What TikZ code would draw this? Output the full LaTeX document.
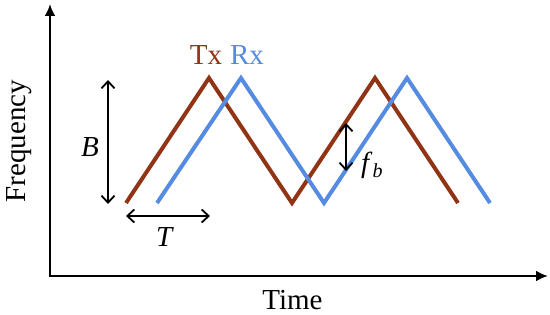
\documentclass[tikz,border=0pt]{standalone}
\usepackage{fontspec}
\setmainfont{Liberation Serif}
\usetikzlibrary{arrows.meta}
\definecolor{txcol}{RGB}{145,52,22}
\definecolor{rxcol}{RGB}{85,140,225}
\tikzset{
  axis/.style={line width=2.8pt,-{Latex[length=12pt,width=11pt]}},
  dim/.style={line width=1.8pt,{Straight Barb[length=7pt,width=13pt]}-{Straight Barb[length=7pt,width=13pt]}},
  txline/.style={line width=4pt,txcol,line join=miter},
  rxline/.style={line width=4pt,rxcol,line join=miter},
  lbl/.style={inner sep=0pt,font=\fontsize{29}{32}\selectfont},
}
\begin{document}
\begin{tikzpicture}[x=1pt,y=-1pt]
\useasboundingbox (0,0) rectangle (550,315);
% axes
\coordinate (O) at (50,276);
\coordinate (ytip) at (50,4);
\coordinate (xtip) at (548,276);
\draw[axis] ([yshift=-1.4pt]O) -- (ytip);
\draw[axis] ([xshift=-1.4pt]O) -- (xtip);
% waveform vertices
\coordinate (t0) at (126,203);
\coordinate (t1) at (209,78);
\coordinate (t2) at (292,203);
\coordinate (t3) at (375,78);
\coordinate (t4) at (458,203);
\coordinate (r0) at (157,203);
\coordinate (r1) at (241,78);
\coordinate (r2) at (324,203);
\coordinate (r3) at (407,78);
\coordinate (r4) at (490,203);
\draw[txline] (t0) -- (t1) -- (t2) -- (t3) -- (t4);
\draw[rxline] (r0) -- (r1) -- (r2) -- (r3) -- (r4);
% dimension arrows
\coordinate (bt) at (108,80);
\coordinate (bb) at (108,204);
\draw[dim] (bt) -- (bb);
\coordinate (tl) at (126,216);
\coordinate (tr) at (210,216);
\draw[dim] (tl) -- (tr);
\coordinate (ft) at (346,123);
\coordinate (fb) at (346,171);
\draw[dim] (ft) -- (fb);
% labels
\node[lbl,anchor=base,text=txcol] (tx) at (206,65) {Tx};
\node[lbl,anchor=base,text=rxcol] (rx) at (247,65) {Rx};
\node[lbl,anchor=base] (B) at (90,157) {\textit{B}};
\node[lbl,anchor=base] (T) at (165,247) {\textit{T}};
\node[lbl,anchor=base west] (fblab) at (361,173) {\textit{f}\raisebox{-5pt}{\fontsize{20}{22}\selectfont\textit{b}}};
\node[lbl,anchor=base] (time) at (292.5,310) {Time};
\node[lbl,anchor=base,rotate=90] (freq) at (25,141) {Frequency};
\end{tikzpicture}
\end{document}
